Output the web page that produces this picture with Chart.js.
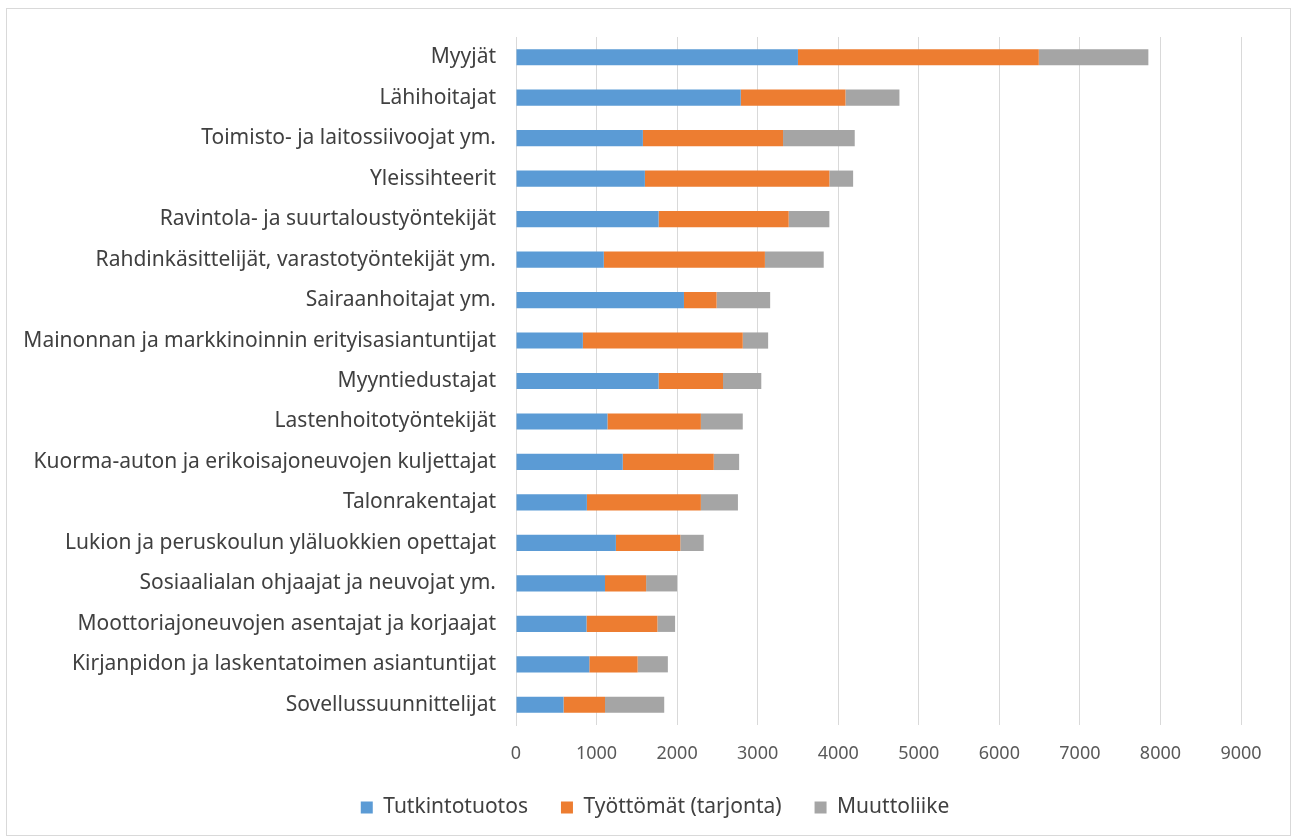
<!DOCTYPE html>
<html>
<head>
<meta charset="utf-8">
<script src="https://cdn.jsdelivr.net/npm/chart.js@4"></script>
<style>
  html, body { margin: 0; padding: 0; background: #fff; overflow: hidden; }
  #frame { position: absolute; left: 6px; top: 8px; width: 1283px; height: 826px; border: 1px solid #d9d9d9; }
  #wrap { position: absolute; left: 7px; top: 10px; width: 1282px; height: 818px; }
</style>
</head>
<body>
<div id="frame"></div>
<div id="wrap"><canvas id="chart"></canvas></div>
<script>
// Ammatit ylhäältä alas
const categories = [
  'Myyjät',
  'Lähihoitajat',
  'Toimisto- ja laitossiivoojat ym.',
  'Yleissihteerit',
  'Ravintola- ja suurtaloustyöntekijät',
  'Rahdinkäsittelijät, varastotyöntekijät ym.',
  'Sairaanhoitajat ym.',
  'Mainonnan ja markkinoinnin erityisasiantuntijat',
  'Myyntiedustajat',
  'Lastenhoitotyöntekijät',
  'Kuorma-auton ja erikoisajoneuvojen kuljettajat',
  'Talonrakentajat',
  'Lukion ja peruskoulun yläluokkien opettajat',
  'Sosiaalialan ohjaajat ja neuvojat ym.',
  'Moottoriajoneuvojen asentajat ja korjaajat',
  'Kirjanpidon ja laskentatoimen asiantuntijat',
  'Sovellussuunnittelijat'
];

const tutkintotuotos = [3500, 2790, 1575, 1600, 1770, 1090, 2085, 830, 1770, 1135, 1325, 880, 1240, 1105, 875, 910, 590];
const tyottomat     = [2990, 1300, 1740, 2290, 1615, 2000, 405, 1985, 800, 1160, 1130, 1415, 800, 510, 880, 600, 515];
const muuttoliike   = [1360, 670, 890, 295, 505, 730, 665, 315, 475, 520, 315, 460, 290, 385, 220, 375, 735];

const xTicks = [0, 1000, 2000, 3000, 4000, 5000, 6000, 7000, 8000, 9000];

const family = '"Noto Sans", sans-serif';

// selite hieman oikealle, kuten alkuperäisessä
const legendShift = {
  id: 'legendShift',
  afterLayout(chart) {
    chart.legend.left += 31;
    chart.legend.right += 31;
  }
};

new Chart(document.getElementById('chart'), {
  type: 'bar',
  data: {
    labels: categories,
    datasets: [
      { label: 'Tutkintotuotos', data: tutkintotuotos, backgroundColor: '#5b9bd5' },
      { label: 'Työttömät (tarjonta)', data: tyottomat, backgroundColor: '#ed7d31' },
      { label: 'Muuttoliike', data: muuttoliike, backgroundColor: '#a5a5a5' }
    ]
  },
  options: {
    indexAxis: 'y',
    responsive: true,
    maintainAspectRatio: false,
    animation: false,
    barPercentage: 0.4,
    categoryPercentage: 1,
    layout: { padding: { top: 27, right: 48, left: 0, bottom: 0 } },
    scales: {
      x: {
        stacked: true,
        min: 0,
        max: 9000,
        afterBuildTicks: scale => { scale.ticks = xTicks.map(v => ({ value: v })); },
        afterFit: scale => { scale.height = 39; },
        grid: { color: '#d9d9d9', drawTicks: false },
        border: { display: false },
        ticks: { color: '#595959', font: { family, size: 18 }, padding: 18, maxRotation: 0, callback: v => String(v) }
      },
      y: {
        stacked: true,
        grid: { display: false, drawTicks: false },
        border: { color: '#d9d9d9' },
        ticks: { color: '#404040', font: { family, size: 21 }, padding: 20, autoSkip: false },
        afterFit: scale => {
          scale.width = 509;
          scale.paddingTop = 0;
          scale.paddingBottom = 0;
        }
      }
    },
    plugins: {
      legend: {
        position: 'bottom',
        labels: { color: '#404040', font: { family, size: 21 }, boxWidth: 12, boxHeight: 12, padding: 33 }
      },
      tooltip: { enabled: false }
    }
  },
  plugins: [legendShift]
});
</script>
</body>
</html>
